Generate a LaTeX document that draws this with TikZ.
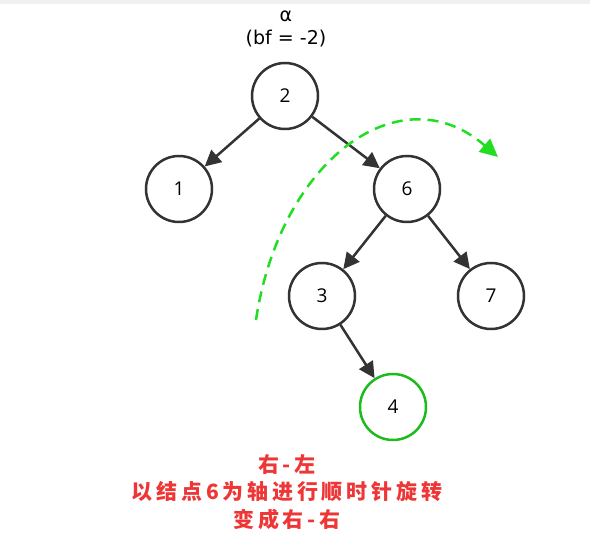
\documentclass[tikz,border=0pt]{standalone}
\usepackage{fontspec}
\setmainfont{Open Sans}
\newfontfamily\labelfont{DejaVu Sans}
\newfontfamily\cjk{Noto Sans CJK SC}[LetterSpace=18]
\usetikzlibrary{arrows.meta}

\definecolor{edgegray}{HTML}{333333}
\definecolor{rotgreen}{HTML}{22DD22}
\definecolor{notered}{HTML}{EE3636}

\begin{document}
\begin{tikzpicture}[x=1pt, y=-1pt,
			treenode/.style={circle, draw=edgegray, line width=2.5pt, minimum size=66pt, inner sep=0pt, font=\fontsize{19}{22}\selectfont},
			newnode/.style={treenode, draw=rotgreen!85!black},
			edge/.style={draw=edgegray, line width=2.5pt, -{Triangle[length=16pt, width=16pt]}},
			rot/.style={draw=rotgreen, line width=2.5pt, dash pattern=on 11pt off 7pt, -{Triangle[length=18pt, width=17pt]}},
			note/.style={text=notered, align=center, font=\cjk\bfseries\fontsize{21}{27.5}\selectfont}]
			\useasboundingbox (0,0) rectangle (590,545);
			\fill[black!6] (0,0) rectangle (590,4);
			% tree
			\node[treenode] (n2) at (285,96) {2};
			\node[treenode] (n1) at (179,189) {1};
			\node[treenode] (n6) at (407,189) {6};
			\node[treenode] (n3) at (322,296) {3};
			\node[treenode] (n7) at (491,296) {7};
			\node[newnode] (n4) at (393,407) {4};
			\node[font=\labelfont\fontsize{19}{23}\selectfont, align=center] (bf) at (286,29) {α\\(bf = -2)};
			\draw[edge] (n2) -- (n1);
			\draw[edge] (n2) -- (n6);
			\draw[edge] (n6) -- (n3);
			\draw[edge] (n6) -- (n7);
			\draw[edge] (n3) -- (n4);
			% rotation
			\coordinate (rotstart) at (256,320);
			\coordinate (rotend) at (498,157);
			\draw[rot] (rotstart) .. controls (280,160) and (400,72) .. (rotend);
			\node[note] (caption) at (287,492) {右-左\\以结点6为轴进行顺时针旋转\\变成右-右};
			\end{tikzpicture}
\end{document}
